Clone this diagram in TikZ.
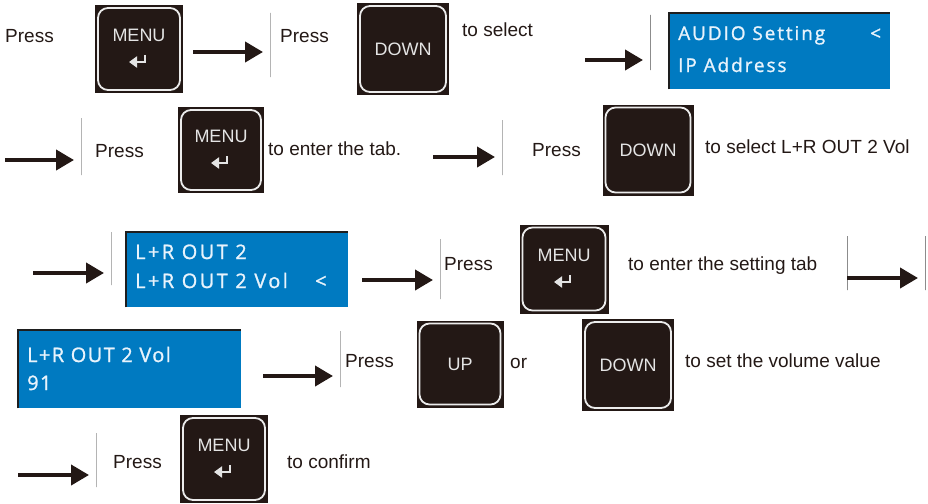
\documentclass[tikz,border=0pt]{standalone}
\usepackage{fontspec}
\setmainfont{Liberation Sans}
\newfontfamily\lcdfont{Open Sans}
\usetikzlibrary{arrows.meta}

\definecolor{ink}{RGB}{35,24,21}
\definecolor{keydark}{RGB}{35,24,21}
\definecolor{keyrim}{RGB}{236,236,236}
\definecolor{keytxt}{RGB}{228,228,228}
\definecolor{lcdblue}{RGB}{0,122,193}
\definecolor{lcdtext}{RGB}{232,243,252}
\definecolor{lcdrim}{RGB}{30,30,30}
\definecolor{barcol}{RGB}{140,140,140}

\tikzset{
  txt/.style={anchor=base west, inner sep=0pt, text=ink, font=\fontsize{19}{22}\selectfont},
  key/.style={fill=keydark, minimum size=#1, inner sep=0pt, text=keytxt,
    font=\fontsize{18}{20}\selectfont,
    path picture={\draw[keyrim, line width=1.8pt, rounded corners=10pt]
      ([shift={(3pt,-3pt)}]path picture bounding box.north west) rectangle
      ([shift={(-3pt,3pt)}]path picture bounding box.south east);}},
  menukey/.style={key=#1, text height=13pt, text depth=28pt},
  ret/.style={-{Triangle[length=8pt,width=11pt]}, line width=2.6pt, draw=keytxt},
  screen/.style={fill=lcdblue, anchor=north west, inner sep=0pt},
  lcdedge/.style={draw=lcdrim, line width=2.5pt},
  lcd/.style 2 args={anchor=base west, inner sep=0pt, text=lcdtext,
    font=\lcdfont\fontsize{#1}{24}\selectfont\addfontfeature{LetterSpace=#2,FakeBold=1.2}},
  bar/.style={draw=barcol, line width=0.8pt, inner sep=0pt, minimum width=0pt, minimum height=#1},
  flow/.style={-{Triangle[length=18pt,width=20pt]}, line width=4pt, draw=ink, shorten >=7pt},
}

\begin{document}
\begin{tikzpicture}[x=1pt,y=-1pt]
\useasboundingbox (0,0) rectangle (928,503);

% row 1
\node[txt] (p1) at (5,42) {Press};
\node[menukey=88pt] (m1) at (139,49) {MENU};
\node[bar=64pt] (b1) at (270,45) {};
\node[txt] (p2) at (280,42) {Press};
\node[key=92pt] (d1) at (403,49) {DOWN};
\node[txt] (t1) at (462,37) {to select};
\node[bar=55pt] (b2) at (650,42.5) {};
\node[screen, minimum width=221pt, minimum height=76pt] (s1) at (669,13) {};
\node[lcd={19}{10}] (s1a) at (678,40) {AUDIO Setting};
\node[lcd={19}{0}] (s1c) at (870,40) {<};
\node[lcd={19}{10}] (s1b) at (678,72) {IP Address};

% row 2
\node[bar=57pt] (b3) at (81,146.5) {};
\node[txt] (p3) at (95,157) {Press};
\node[menukey=86pt] (m2) at (221,150) {MENU};
\node[txt] (t2) at (268,155) {to enter the tab.};
\node[bar=55pt] (b4) at (502,147.5) {};
\node[txt] (p4) at (532,156) {Press};
\node[key=91pt] (d2) at (648,150) {DOWN};
\node[txt] (t3) at (705,153) {to select L+R OUT 2 Vol};

% row 3
\node[bar=53pt] (b5) at (111,258.5) {};
\node[screen, minimum width=222pt, minimum height=75pt] (s2) at (126,232) {};
\node[lcd={20}{12}] (s2a) at (135,259) {L+R OUT 2};
\node[lcd={20}{12}] (s2b) at (135,288) {L+R OUT 2 Vol};
\node[lcd={20}{0}] (s2c) at (315,288) {<};
\node[bar=60pt] (b6) at (440,269) {};
\node[txt] (p5) at (444,270) {Press};
\node[menukey=89pt] (m3) at (564,269) {MENU};
\node[txt] (t4) at (628,270) {to enter the setting tab};
\node[bar=54pt] (b7) at (847,263) {};
\node[bar=54pt] (b8) at (925,263) {};

% row 4
\node[screen, minimum width=223pt, minimum height=78pt] (s3) at (18,330) {};
\node[lcd={20}{7}] (s3a) at (27,362) {L+R OUT 2 Vol};
\node[lcd={20}{7}] (s3b) at (27,390) {91};
\node[bar=56pt] (b9) at (340,359) {};
\node[txt] (p6) at (345,367) {Press};
\node[key=87pt] (u1) at (460,364) {UP};
\node[txt] (o1) at (510,368) {or};
\node[key=92pt] (d3) at (628,365) {DOWN};
\node[txt] (t5) at (685,367) {to set the volume value};

% row 5
\node[bar=54pt] (b10) at (96,460) {};
\node[txt] (p7) at (113,468) {Press};
\node[menukey=88pt] (m4) at (224,459) {MENU};
\node[txt] (t6) at (287,468) {to confirm};

\foreach \k in {m1,m2,m3,m4}
  \draw[ret] ([shift={(6pt,-6pt)}]\k.center) |- ([shift={(-10pt,-13pt)}]\k.center);

\foreach \s in {s1,s2,s3}
  \draw[lcdedge] (\s.south west) |- (\s.north east);

\coordinate (a1) at (193,52);
\coordinate (a2) at (585,60);
\coordinate (a3) at (5,160);
\coordinate (a4) at (433,157);
\coordinate (a5) at (33,273);
\coordinate (a6) at (362,280);
\coordinate (a7) at (847,278);
\coordinate (a8) at (263,376);
\coordinate (a9) at (18,475);

\draw[flow] (a1) -- (a1 -| b1);
\draw[flow] (a2) -- (a2 -| b2);
\draw[flow] (a3) -- (a3 -| b3);
\draw[flow] (a4) -- (a4 -| b4);
\draw[flow] (a5) -- (a5 -| b5);
\draw[flow] (a6) -- (a6 -| b6);
\draw[flow] (a7) -- (a7 -| b8);
\draw[flow] (a8) -- (a8 -| b9);
\draw[flow] (a9) -- (a9 -| b10);
\end{tikzpicture}
\end{document}
